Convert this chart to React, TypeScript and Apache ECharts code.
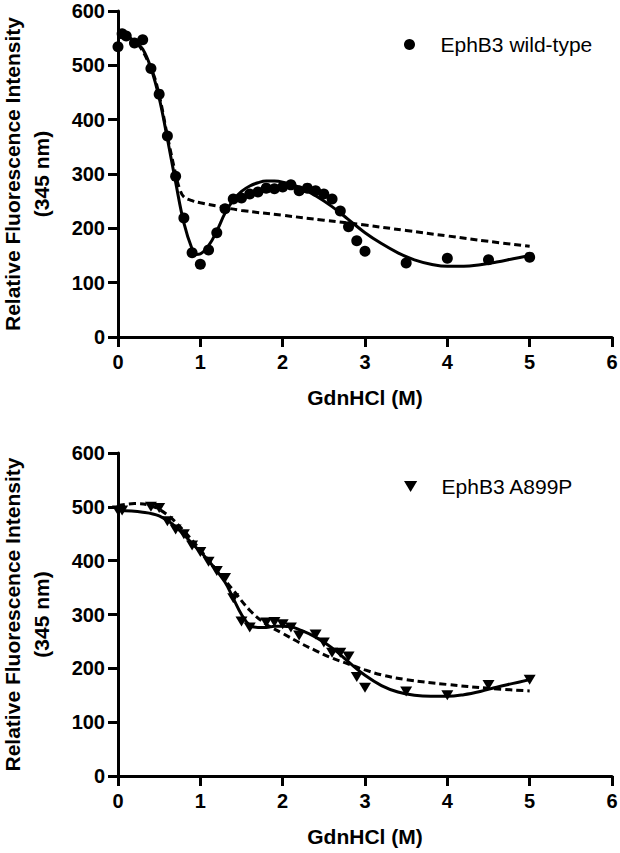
import React, { useEffect, useRef } from "react";
import * as echarts from "echarts";

// ---- Top panel: EphB3 wild-type ----
const wtX = [0, 0.05, 0.1, 0.2, 0.3, 0.4, 0.5, 0.6, 0.7, 0.8, 0.9, 1.0, 1.1, 1.2, 1.3, 1.4, 1.5, 1.6, 1.7, 1.8, 1.9, 2.0, 2.1, 2.2, 2.3, 2.4, 2.5, 2.6, 2.7, 2.8, 2.9, 3.0, 3.5, 4.0, 4.5, 5.0];
const wtY = [534, 558, 554, 541, 547, 494, 447, 370, 296, 219, 155, 134, 160, 192, 236, 254, 256, 263, 267, 274, 273, 276, 280, 269, 274, 269, 263, 254, 232, 203, 177, 158, 136, 145, 142, 147];

const wtFitX = [0, 0.1, 0.2, 0.3, 0.4, 0.5, 0.6, 0.7, 0.8, 0.9, 0.95, 1.0, 1.1, 1.2, 1.3, 1.4, 1.5, 1.6, 1.7, 1.8, 1.9, 2.0, 2.2, 2.4, 2.6, 2.8, 3.0, 3.2, 3.4, 3.6, 3.8, 4.0, 4.2, 4.4, 4.6, 4.8, 5.0];
const wtFitY = [553, 552, 545, 530, 495, 440, 365, 285, 210, 162, 152, 153, 168, 195, 228, 252, 268, 278, 284, 287, 287, 285, 276, 260, 240, 216, 192, 172, 155, 142, 134, 130, 130, 133, 138, 144, 150];

const wtDashX = [0, 0.2, 0.4, 0.5, 0.6, 0.7, 0.75, 0.8, 0.9, 1.0, 1.2, 1.5, 2.0, 2.5, 3.0, 3.5, 4.0, 4.5, 5.0];
const wtDashY = [553, 545, 495, 445, 370, 300, 272, 258, 251, 247, 241, 233, 224, 215, 206, 196, 186, 176, 167];

// ---- Bottom panel: EphB3 A899P ----
const muX = [0, 0.05, 0.4, 0.5, 0.6, 0.7, 0.8, 0.9, 1.0, 1.1, 1.2, 1.3, 1.4, 1.5, 1.6, 1.8, 1.9, 2.0, 2.1, 2.2, 2.4, 2.5, 2.6, 2.7, 2.8, 2.9, 3.0, 3.5, 4.0, 4.5, 5.0];
const muY = [493, 493, 500, 498, 473, 458, 449, 428, 416, 398, 381, 368, 330, 287, 276, 285, 286, 282, 276, 261, 263, 248, 229, 229, 222, 184, 164, 157, 150, 169, 179];

const muFitX = [0, 0.3, 0.5, 0.7, 0.9, 1.1, 1.3, 1.4, 1.5, 1.6, 1.7, 1.8, 1.9, 2.0, 2.1, 2.2, 2.4, 2.6, 2.8, 3.0, 3.2, 3.4, 3.6, 3.8, 4.0, 4.2, 4.4, 4.6, 4.8, 5.0];
const muFitY = [493, 490, 483, 463, 432, 400, 360, 330, 300, 280, 276, 276, 278, 278, 277, 272, 258, 238, 212, 187, 168, 156, 150, 148, 148, 151, 157, 165, 172, 179];

const muDashX = [0, 0.2, 0.4, 0.6, 0.8, 1.0, 1.2, 1.4, 1.6, 1.8, 2.0, 2.2, 2.4, 2.6, 2.8, 3.0, 3.2, 3.5, 4.0, 4.5, 5.0];
const muDashY = [502, 506, 502, 485, 455, 420, 382, 345, 308, 282, 265, 248, 233, 219, 208, 197, 188, 179, 170, 163, 158];

const yTicks = { min: 0, max: 600, interval: 100 };
const xTicks = { min: 0, max: 6, interval: 1 };
const xTitle = "GdnHCl (M)";
const yTitle = "Relative Fluorescence Intensity\n(345 nm)";
const wtName = "EphB3 wild-type";
const muName = "EphB3 A899P";

const pairs = (xs: number[], ys: number[]) => xs.map((x, i) => [x, ys[i]]);

const FONT = "Liberation Sans, Arial, sans-serif";

function xAxisCfg(gridIndex: number) {
  return {
    type: "value",
    gridIndex,
    min: xTicks.min,
    max: xTicks.max,
    interval: xTicks.interval,
    axisLine: { show: true, onZero: false, lineStyle: { color: "#000", width: 3 } },
    axisTick: { show: true, inside: false, length: 10, lineStyle: { color: "#000", width: 3 } },
    axisLabel: { color: "#000", fontSize: 20, fontWeight: "bold", fontFamily: FONT, margin: 15 },
    splitLine: { show: false },
    name: xTitle,
    nameLocation: "middle",
    nameGap: 50,
    nameTextStyle: { color: "#000", fontSize: 21, fontWeight: "bold", fontFamily: FONT },
  };
}

function yAxisCfg(gridIndex: number) {
  return {
    type: "value",
    gridIndex,
    min: yTicks.min,
    max: yTicks.max,
    interval: yTicks.interval,
    axisLine: { show: true, onZero: false, lineStyle: { color: "#000", width: 3 } },
    axisTick: { show: true, inside: false, length: 10, lineStyle: { color: "#000", width: 3 } },
    axisLabel: { color: "#000", fontSize: 20, fontWeight: "bold", fontFamily: FONT, margin: 13 },
    splitLine: { show: false },
    name: yTitle,
    nameLocation: "middle",
    nameGap: 62,
    nameTextStyle: { color: "#000", fontSize: 21, fontWeight: "bold", fontFamily: FONT, lineHeight: 29, align: "center" },
  };
}

function lineSeries(idx: number, xs: number[], ys: number[], dashed: boolean) {
  return {
    type: "line",
    xAxisIndex: idx,
    yAxisIndex: idx,
    data: pairs(xs, ys),
    smooth: 0.4,
    showSymbol: false,
    symbol: "none",
    clip: false,
    lineStyle: { color: "#000", width: 3, type: dashed ? [7, 4] : "solid" },
    z: 2,
  };
}

const TRI = "path://M0,0 L12,0 L6,10 Z";

export default function App() {
  const ref = useRef<HTMLDivElement>(null);
  useEffect(() => {
    if (!ref.current) return;
    const chart = echarts.init(ref.current, undefined, { renderer: "svg" });
    chart.setOption({
      animation: false,
      backgroundColor: "#fff",
      grid: [
        { left: 118, top: 11, width: 494, height: 326, outerBoundsMode: "none", containLabel: false },
        { left: 118, top: 453, width: 494, height: 323, outerBoundsMode: "none", containLabel: false },
      ],
      xAxis: [xAxisCfg(0), xAxisCfg(1)],
      yAxis: [yAxisCfg(0), yAxisCfg(1)],
      legend: [
        {
          data: [{ name: wtName, icon: "circle" }],
          left: 404,
          top: 34,
          padding: 0,
          itemWidth: 14,
          itemHeight: 11,
          itemGap: 0,
          textStyle: { color: "#000", fontSize: 21, fontFamily: FONT, padding: [0, 0, 0, 19] },
        },
        {
          data: [{ name: muName, icon: TRI }],
          left: 404,
          top: 476,
          padding: 0,
          itemWidth: 14,
          itemHeight: 11,
          itemGap: 0,
          textStyle: { color: "#000", fontSize: 21, fontFamily: FONT, padding: [0, 0, 0, 19] },
        },
      ],
      series: [
        lineSeries(0, wtFitX, wtFitY, false),
        lineSeries(0, wtDashX, wtDashY, true),
        {
          type: "scatter",
          name: wtName,
          xAxisIndex: 0,
          yAxisIndex: 0,
          data: pairs(wtX, wtY),
          symbol: "circle",
          symbolSize: 11,
          clip: false,
          itemStyle: { color: "#000", opacity: 1 },
          z: 3,
        },
        lineSeries(1, muFitX, muFitY, false),
        lineSeries(1, muDashX, muDashY, true),
        {
          type: "scatter",
          name: muName,
          xAxisIndex: 1,
          yAxisIndex: 1,
          data: pairs(muX, muY),
          symbol: TRI,
          symbolSize: [12, 10],
          clip: false,
          itemStyle: { color: "#000", opacity: 1 },
          z: 3,
        },
      ],
    });
    return () => chart.dispose();
  }, []);
  return (
    <div
      ref={ref}
      style={{ position: "fixed", left: 0, top: 0, width: 620, height: 853, background: "#fff" }}
    />
  );
}
